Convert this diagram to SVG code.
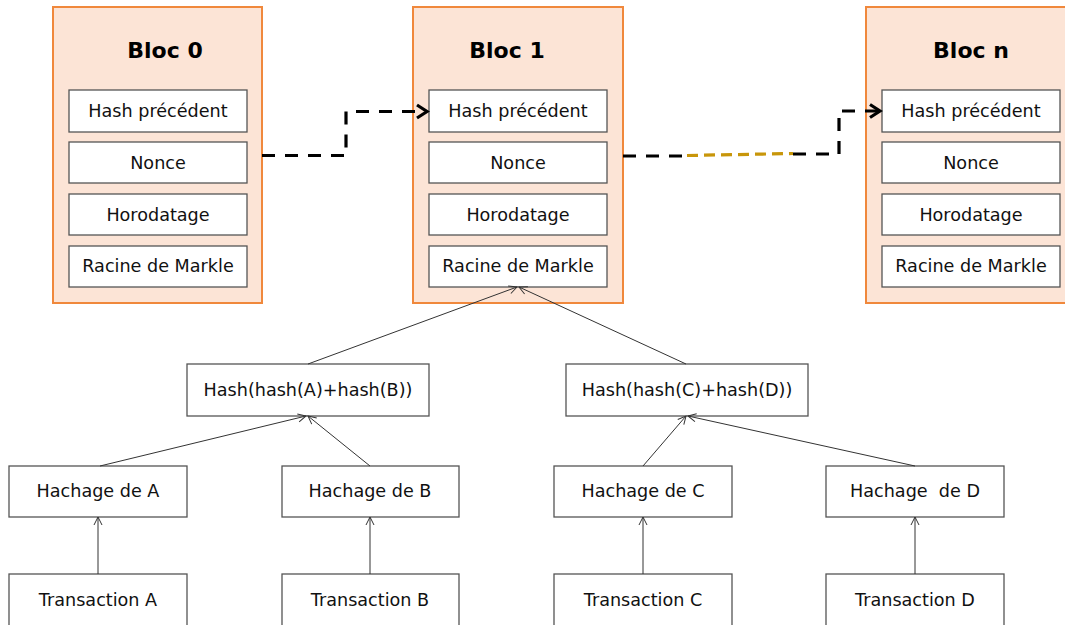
<svg xmlns="http://www.w3.org/2000/svg" width="1065" height="625" viewBox="0 0 1065 625">
<style>
.blk{fill:#FCE4D6;stroke:#F0883C;stroke-width:2}
.box{fill:#fff;stroke:#555;stroke-width:1.3}
.t{font-family:"DejaVu Sans",sans-serif;font-size:17.6px;fill:#111;text-anchor:middle}
.h{font-family:"DejaVu Sans",sans-serif;font-size:22px;font-weight:bold;fill:#000;text-anchor:middle}
.thin{fill:none;stroke:#333;stroke-width:1;marker-end:url(#oa)}
.dash{fill:none;stroke:#000;stroke-width:3.2;stroke-dasharray:13 10}
.gold{fill:none;stroke:#C8960A;stroke-width:3.2;stroke-dasharray:11 6}
</style>
<defs>
<marker id="oa" markerUnits="userSpaceOnUse" markerWidth="20" markerHeight="20" viewBox="-10 -10 20 20" refX="0" refY="0" orient="auto"><path d="M-8,-4 L0,0 L-8,4" fill="none" stroke="#333" stroke-width="1"/></marker>
<marker id="ta" markerUnits="userSpaceOnUse" markerWidth="24" markerHeight="24" viewBox="-12 -12 24 24" refX="0" refY="0" orient="auto"><path d="M-10,-6.5 L0,0 L-10,6.5" fill="none" stroke="#000" stroke-width="3.2"/></marker>
</defs>
<rect width="1065" height="625" fill="#fff"/>

<g id="bloc0">
<rect class="blk" x="53" y="7" width="209" height="296"/>
<text class="h" x="165" y="58">Bloc 0</text>
<rect class="box" x="69" y="90" width="178" height="42"/><text class="t" x="158" y="117">Hash précédent</text>
<rect class="box" x="69" y="142" width="178" height="41"/><text class="t" x="158" y="169">Nonce</text>
<rect class="box" x="69" y="194" width="178" height="41"/><text class="t" x="158" y="221">Horodatage</text>
<rect class="box" x="69" y="246" width="178" height="41"/><text class="t" x="158" y="272">Racine de Markle</text>
</g>

<g id="bloc1">
<rect class="blk" x="413" y="7" width="210" height="296"/>
<text class="h" x="507" y="58">Bloc 1</text>
<rect class="box" x="429" y="90" width="178" height="42"/><text class="t" x="518" y="117">Hash précédent</text>
<rect class="box" x="429" y="142" width="178" height="41"/><text class="t" x="518" y="169">Nonce</text>
<rect class="box" x="429" y="194" width="178" height="41"/><text class="t" x="518" y="221">Horodatage</text>
<rect class="box" x="429" y="246" width="178" height="41"/><text class="t" x="518" y="272">Racine de Markle</text>
</g>

<g id="blocn">
<rect class="blk" x="866" y="7" width="212" height="296"/>
<text class="h" x="971" y="58">Bloc n</text>
<rect class="box" x="882" y="90" width="178" height="42"/><text class="t" x="971" y="117">Hash précédent</text>
<rect class="box" x="882" y="142" width="178" height="41"/><text class="t" x="971" y="169">Nonce</text>
<rect class="box" x="882" y="194" width="178" height="41"/><text class="t" x="971" y="221">Horodatage</text>
<rect class="box" x="882" y="246" width="178" height="41"/><text class="t" x="971" y="272">Racine de Markle</text>
</g>

<g id="hab"><rect class="box" x="187" y="364" width="242" height="52"/><text class="t" x="308" y="396">Hash(hash(A)+hash(B))</text></g>
<g id="hcd"><rect class="box" x="566" y="364" width="242" height="52"/><text class="t" x="687" y="396">Hash(hash(C)+hash(D))</text></g>
<g id="ha"><rect class="box" x="9" y="466" width="178" height="51"/><text class="t" x="98" y="497">Hachage de A</text></g>
<g id="hb"><rect class="box" x="282" y="466" width="177" height="51"/><text class="t" x="370" y="497">Hachage de B</text></g>
<g id="hc"><rect class="box" x="554" y="466" width="178" height="51"/><text class="t" x="643" y="497">Hachage de C</text></g>
<g id="hd"><rect class="box" x="826" y="466" width="178" height="51"/><text class="t" x="915" y="497" xml:space="preserve">Hachage  de D</text></g>
<g id="ta1"><rect class="box" x="9" y="574" width="178" height="60"/><text class="t" x="98" y="606">Transaction A</text></g>
<g id="tb"><rect class="box" x="282" y="574" width="177" height="60"/><text class="t" x="370" y="606">Transaction B</text></g>
<g id="tc"><rect class="box" x="554" y="574" width="178" height="60"/><text class="t" x="643" y="606">Transaction C</text></g>
<g id="td"><rect class="box" x="826" y="574" width="178" height="60"/><text class="t" x="915" y="606">Transaction D</text></g>

<g id="connectors">
<path class="dash" d="M262,155.5 H346 V111.5 H427" marker-end="url(#ta)"/>
<path class="dash" d="M623,156 H687"/>
<path class="gold" d="M687,155.5 L793,153.5"/>
<path class="dash" d="M793,154 H839 V111 H880" marker-end="url(#ta)"/>
<line class="thin" x1="308" y1="364" x2="517" y2="287"/>
<line class="thin" x1="686" y1="364" x2="519" y2="287"/>
<line class="thin" x1="100" y1="466" x2="306" y2="416"/>
<line class="thin" x1="370" y1="466" x2="308" y2="416"/>
<line class="thin" x1="643" y1="466" x2="686" y2="416"/>
<line class="thin" x1="915" y1="466" x2="688" y2="416"/>
<line class="thin" x1="98" y1="574" x2="98" y2="517"/>
<line class="thin" x1="370" y1="574" x2="370" y2="517"/>
<line class="thin" x1="643" y1="574" x2="643" y2="517"/>
<line class="thin" x1="915" y1="574" x2="915" y2="517"/>
</g>
</svg>
